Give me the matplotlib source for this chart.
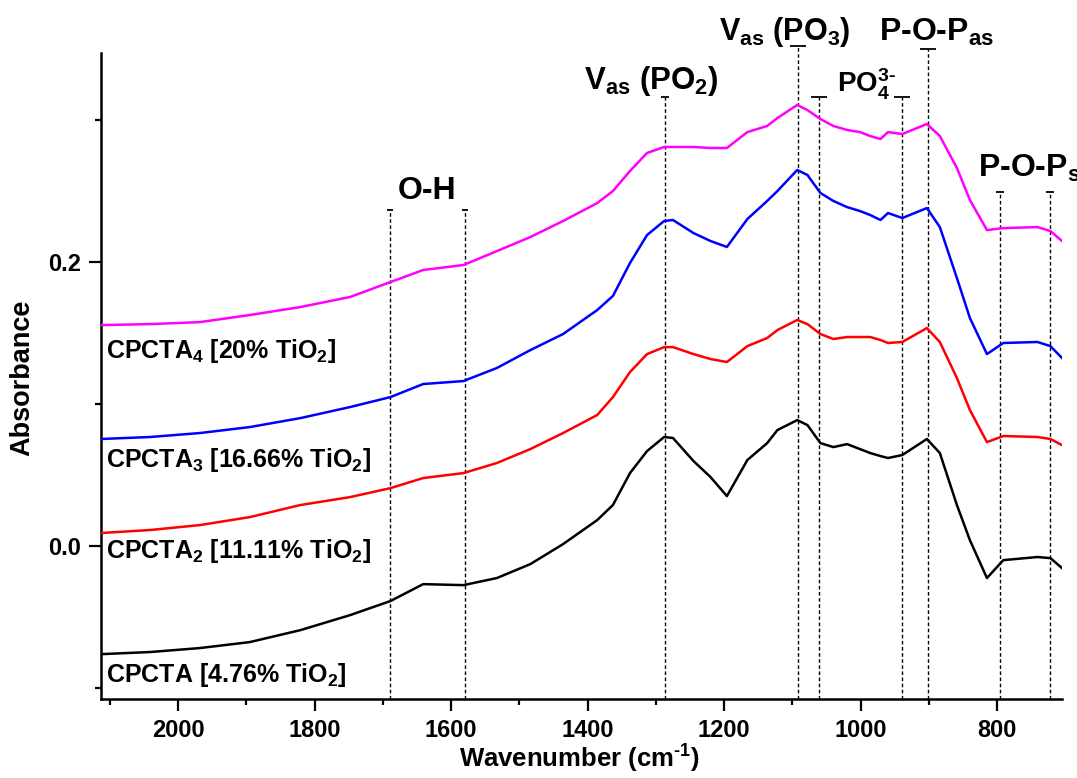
import matplotlib
matplotlib.use('Agg')
import matplotlib.pyplot as plt
from matplotlib.ticker import MultipleLocator, FormatStrFormatter

# wavenumber grid (cm-1) shared by the four spectra
wavenumber = [2113, 2041, 1968, 1895, 1821, 1748, 1689, 1641, 1582, 1533,
              1484, 1436, 1386, 1363, 1338, 1313, 1288, 1275, 1245, 1220,
              1196, 1166, 1137, 1122, 1093, 1078, 1059, 1040, 1020, 1001,
              986, 971, 960, 939, 903, 884, 859, 840, 815, 791,
              741, 722, 705]

cpcta = [-0.0761, -0.0746, -0.0718, -0.0676, -0.0592, -0.0486, -0.0387, -0.0268, -0.0275, -0.0225,
         -0.0127, 0.0014, 0.0183, 0.0289, 0.0514, 0.0669, 0.0768, 0.0761, 0.0599, 0.0486,
         0.0352, 0.0606, 0.0725, 0.0817, 0.0887, 0.0852, 0.0725, 0.0697, 0.0718, 0.0683,
         0.0655, 0.0634, 0.0620, 0.0641, 0.0754, 0.0655, 0.0289, 0.0042, -0.0225, -0.0099,
         -0.0077, -0.0085, -0.0155]

cpcta2 = [0.0092, 0.0113, 0.0148, 0.0204, 0.0289, 0.0345, 0.0408, 0.0479, 0.0514, 0.0585,
          0.0683, 0.0796, 0.0923, 0.1049, 0.1225, 0.1352, 0.1401, 0.1401, 0.1352, 0.1317,
          0.1296, 0.1408, 0.1465, 0.1521, 0.1592, 0.1563, 0.1493, 0.1458, 0.1472, 0.1472,
          0.1472, 0.1451, 0.1430, 0.1437, 0.1535, 0.1437, 0.1183, 0.0958, 0.0732, 0.0775,
          0.0768, 0.0754, 0.0711]

cpcta3 = [0.0754, 0.0768, 0.0796, 0.0838, 0.0901, 0.0979, 0.1049, 0.1141, 0.1162, 0.1254,
          0.1380, 0.1493, 0.1662, 0.1761, 0.1993, 0.2190, 0.2289, 0.2296, 0.2204, 0.2148,
          0.2106, 0.2303, 0.2430, 0.2500, 0.2648, 0.2613, 0.2486, 0.2430, 0.2387, 0.2359,
          0.2331, 0.2296, 0.2345, 0.2310, 0.2380, 0.2246, 0.1887, 0.1606, 0.1352, 0.1430,
          0.1437, 0.1408, 0.1324]

cpcta4 = [0.1556, 0.1563, 0.1577, 0.1627, 0.1683, 0.1754, 0.1859, 0.1944, 0.1979, 0.2077,
          0.2176, 0.2289, 0.2415, 0.2500, 0.2641, 0.2768, 0.2810, 0.2810, 0.2810, 0.2803,
          0.2803, 0.2915, 0.2958, 0.3014, 0.3106, 0.3070, 0.3007, 0.2958, 0.2930, 0.2915,
          0.2887, 0.2866, 0.2915, 0.2901, 0.2972, 0.2887, 0.2662, 0.2437, 0.2225, 0.2239,
          0.2246, 0.2218, 0.2148]

series_labels = ['CPCTA [4.76% TiO$_2$]', 'CPCTA$_2$ [11.11% TiO$_2$]',
                 'CPCTA$_3$ [16.66% TiO$_2$]', 'CPCTA$_4$ [20% TiO$_2$]']
label_y = [-0.0958, -0.0085, 0.0556, 0.1324]

# band marker lines
band_pos = [1689, 1579, 1287, 1092, 1061, 939, 901, 796, 722]
band_top = [0.2366, 0.2366, 0.3162, 0.3521, 0.3162, 0.3162, 0.3500, 0.2493, 0.2493]
band_cap = [5, 5, 6, 11.5, 11, 11, 11.5, 6, 6]

band_names = ['O-H', r'V$_{as}$ (PO$_2$)', r'V$_{as}$ (PO$_3$)',
              r'PO$_4^{\text{3-}}$', r'P-O-P$_{as}$', r'P-O-P$_s$']
name_x = [1635, 1307, 1111, 991, 889, 828]
name_y = [0.2444, 0.3218, 0.3563, 0.3197, 0.3556, 0.2599]
name_size = [23, 22.5, 22, 20, 23, 23]

plt.rcParams['font.family'] = ['Liberation Sans', 'DejaVu Sans']
plt.rcParams['font.weight'] = 'bold'
plt.rcParams['mathtext.fontset'] = 'custom'
plt.rcParams['mathtext.rm'] = 'Liberation Sans:bold'
plt.rcParams['mathtext.it'] = 'Liberation Sans:bold'
plt.rcParams['mathtext.bf'] = 'Liberation Sans:bold'
plt.rcParams['mathtext.default'] = 'rm'

fig = plt.figure(figsize=(10.77, 7.78), dpi=100)
ax = fig.add_axes([0.0938, 0.1015, 0.8923, 0.8304])

ymin, ymax = -0.1077, 0.3472

for x, top, cw in zip(band_pos, band_top, band_cap):
    ax.vlines(x, ymin, top, colors='black', linewidth=1.0,
              linestyles=(0, (2.6, 1.8)), clip_on=False, zorder=1)
    ax.plot([x], [top], marker='_', markersize=cw, markeredgewidth=1.3,
            color='black', clip_on=False, zorder=1)

ax.plot(wavenumber, cpcta, color='black', linewidth=1.8, zorder=3)
ax.plot(wavenumber, cpcta2, color='#ff0000', linewidth=1.8, zorder=3)
ax.plot(wavenumber, cpcta3, color='#0000ff', linewidth=1.8, zorder=3)
ax.plot(wavenumber, cpcta4, color='#ff00ff', linewidth=1.8, zorder=3)

for lab, y in zip(series_labels, label_y):
    ax.text(2105, y, lab, fontsize=18, fontweight='bold', ha='left', va='baseline')

for i, (name, x, y, s) in enumerate(zip(band_names, name_x, name_y, name_size)):
    ha = 'left' if i == len(band_names) - 1 else 'center'
    ax.text(x, y, name, fontsize=s, fontweight='bold', ha=ha, va='baseline',
            clip_on=False)

ax.set_xlim(2113, 705)
ax.set_ylim(ymin, ymax)

ax.xaxis.set_major_locator(MultipleLocator(200))
ax.xaxis.set_minor_locator(MultipleLocator(100))
ax.yaxis.set_major_locator(MultipleLocator(0.2))
ax.yaxis.set_minor_locator(MultipleLocator(0.1))
ax.yaxis.set_major_formatter(FormatStrFormatter('%.1f'))

ax.spines['top'].set_visible(False)
ax.spines['right'].set_visible(False)
ax.spines['left'].set_linewidth(1.8)
ax.spines['bottom'].set_linewidth(1.8)
ax.tick_params(which='major', direction='out', length=8.5, width=1.6, labelsize=17, pad=6)
ax.tick_params(which='minor', direction='out', length=4.5, width=1.6)

ax.set_xlabel(r'Wavenumber (cm$^{\text{-1}}$)', fontsize=18.5, fontweight='bold')
ax.set_ylabel('Absorbance', fontsize=19.5, fontweight='bold')
ax.xaxis.label.set_verticalalignment('baseline')
ax.xaxis.set_label_coords(0.498, -0.1068)
ax.yaxis.set_label_coords(-0.068, 0.497)

fig.savefig('out.png', dpi=100)
